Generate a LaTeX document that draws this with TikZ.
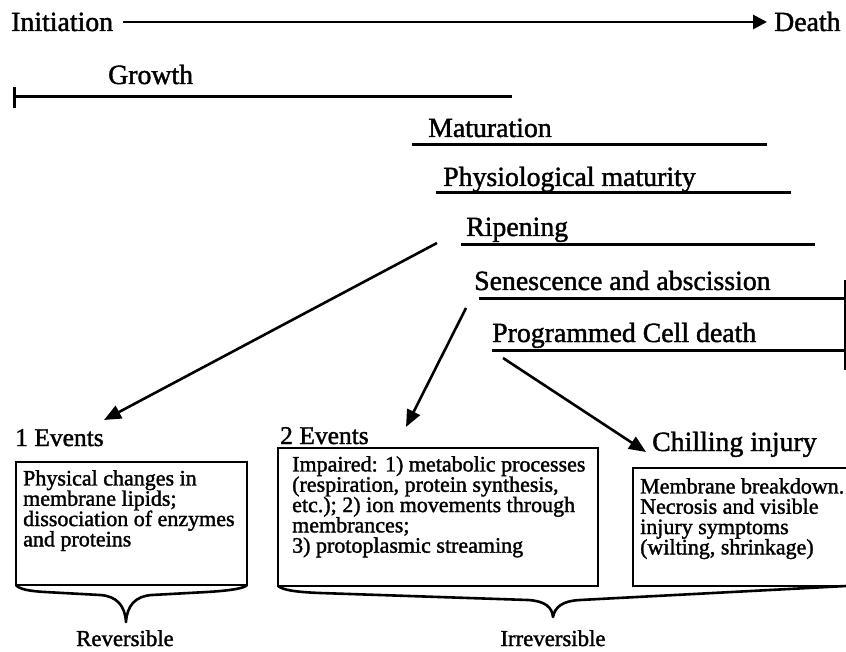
\documentclass[tikz,border=0pt]{standalone}
\usepackage{fontspec}
\setmainfont[FakeBold=1.5]{Liberation Serif}
\usetikzlibrary{arrows.meta}
\begin{document}
\begin{tikzpicture}[x=1pt,y=-1pt,
  big/.style={font=\fontsize{27.8}{30}\selectfont, inner sep=0pt, anchor=base west},
  mid/.style={font=\fontsize{25.5}{28}\selectfont, inner sep=0pt, anchor=base west},
  small/.style={font=\fontsize{22.8}{26}\selectfont, inner sep=0pt, anchor=base},
  boxtxt/.style={font=\fontsize{22}{20.3}\selectfont, align=left, inner sep=0pt, anchor=north west},
  stageline/.style={line width=3pt},
  boxline/.style={line width=2pt},
  braceline/.style={line width=2.6pt, line join=round},
  arr/.style={line width=2.6pt, -{Triangle[length=17pt,width=14pt]}}]
\clip (0,0) rectangle (846,652);
\fill[white] (0,0) rectangle (846,652);

% time axis
\node[big] (init) at (11,31) {Initiation};
\node[big] (death) at (774,31) {Death};
\coordinate (axs) at (123,22);
\coordinate (axe) at (767,22);
\draw[line width=2.8pt, -{Triangle[length=14pt,width=14pt]}] (axs) -- (axe);

% stages
\node[big] (growth) at (108,84) {Growth};
\coordinate (g1) at (14,97); \coordinate (g2) at (512,97);
\draw[stageline] (g1) -- (g2);
\draw[stageline] (14,87) -- (14,108);

\node[big] (mat) at (428,137) {Maturation};
\draw[stageline] (412,145) -- (767,145);
\node[big] (phys) at (443,186) {Physiological maturity};
\draw[stageline] (436,193) -- (791,193);
\node[big] (rip) at (466,236) {Ripening};
\draw[stageline] (461,245) -- (815,245);
\node[big] (sen) at (474,290) {Senescence and abscission};
\draw[stageline] (479,299) -- (846,299);
\node[big] (pcd) at (492,342) {Programmed Cell death};
\draw[stageline] (492,350) -- (846,350);
\draw[stageline] (845,280) -- (845,370);

% event labels
\node[mid] (ev1) at (15,446) {1 Events};
\node[mid] (ev2) at (280,444) {2 Events};
\node[big] (chill) at (652,451) {Chilling injury};

% arrows
\coordinate (a1s) at (437,243); \coordinate (a1e) at (104,420);
\coordinate (a2s) at (466,308); \coordinate (a2e) at (406,427);
\coordinate (a3s) at (503,358); \coordinate (a3e) at (646,452);
\draw[arr] (a1s) -- (a1e);
\draw[arr] (a2s) -- (a2e);
\draw[arr] (a3s) -- (a3e);

% boxes
\draw[boxline] (16,462) rectangle (247,585);
\node[boxtxt] (t1) at (23,470) {Physical changes in\\membrane lipids;\\dissociation of enzymes\\and proteins};

\draw[boxline] (278,448) rectangle (598,586);
\node[boxtxt] (t2) at (292,456) {Impaired: 1) metabolic processes\\(respiration, protein synthesis,\\etc.); 2) ion movements through\\membrances;\\3) protoplasmic streaming};

\draw[boxline] (633,468) rectangle (870,586);
\node[boxtxt] (t3) at (640,478) {Membrane breakdown.\\Necrosis and visible\\injury symptoms\\(wilting, shrinkage)};

% braces
\draw[braceline] (16,585) .. controls (19,589) and (28,591) .. (45,592) -- (100,595)
  .. controls (117,596) and (125,606) .. (126,622)
  .. controls (127,606) and (135,596) .. (152,595) -- (207,592)
  .. controls (224,591) and (244,589) .. (247,585);
\draw[braceline] (278,586) .. controls (283,590) and (295,592) .. (320,593) -- (528,600)
  .. controls (545,601) and (552,607) .. (553,617)
  .. controls (555,607) and (562,601) .. (580,600) -- (846,586);

\node[small] (rev) at (125,646) {Reversible};
\node[small] (irr) at (553,646) {Irreversible};
\end{tikzpicture}
\end{document}
